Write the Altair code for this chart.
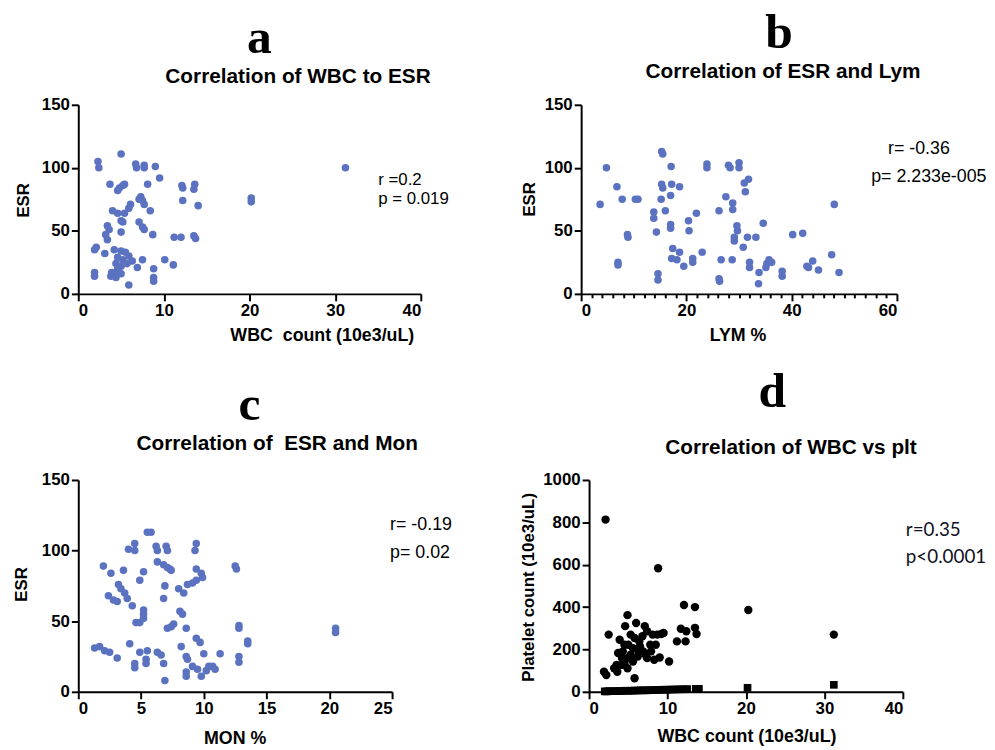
import altair as alt
import pandas as pd

# ---------------- data ----------------
# Panel a: WBC count vs ESR
a_wbc = [5.0, 2.3, 2.4, 6.7, 6.8, 7.7, 7.7, 9.0, 9.5, 3.7, 4.6, 4.8, 5.4, 5.2, 8.1,
         12.1, 12.2, 13.6, 13.5, 12.2, 14.0, 7.3, 7.5, 7.7, 7.1, 6.1, 5.9, 8.4, 4.0,
         4.6, 5.4, 5.0, 5.2, 7.1, 7.5, 7.7, 3.4, 3.6, 3.2, 3.4, 5.0, 8.7, 11.2, 12.0,
         13.5, 13.7, 2.1, 1.9, 3.1, 4.2, 5.0, 5.5, 4.6, 5.2, 5.9, 6.3, 4.4, 5.0, 5.7,
         6.9, 7.5, 10.1, 11.1, 1.9, 1.9, 3.9, 3.8, 4.6, 4.4, 5.0, 8.8, 8.8, 8.8, 5.9,
         4.6, 20.2, 20.2, 31.2]
a_esr = [111, 105, 100, 103, 100, 102, 100, 101, 92, 87, 82, 84, 87, 86, 87,
         86, 84, 87, 83, 74, 70, 77, 74, 71, 75, 71, 68, 66, 66,
         64, 64, 58, 57, 57, 53, 51, 54, 51, 47, 43, 49, 47, 45, 45,
         46, 44, 37, 35, 32, 35, 34, 33, 29, 27, 30, 26, 24, 22, 24,
         21, 27, 27, 23, 17, 14, 17, 14, 16, 13, 16, 20, 13, 10, 7,
         20, 76, 73, 100]

# Panel b: LYM % vs ESR
b_lym = [3.6, 4.8, 6.8, 7.0, 7.0, 7.8, 8.8, 8.9, 10.3, 10.8, 13.8, 13.8, 14.3, 14.6,
         14.6, 15.3, 15.5, 15.3, 15.5, 15.2, 16.0, 17.1, 17.0, 17.2, 18.7, 17.0, 17.0,
         17.4, 17.2, 18.2, 18.7, 19.5, 20.4, 20.5, 21.2, 21.2, 21.9, 23.0, 23.9, 23.9,
         26.2, 26.2, 26.3, 26.6, 27.5, 28.0, 28.3, 28.7, 28.8, 28.8, 29.1, 29.1, 29.6,
         29.7, 30.0, 30.0, 30.8, 31.0, 31.2, 31.8, 31.6, 32.0, 32.0, 33.2, 33.7, 33.8,
         34.6, 35.1, 35.7, 36.2, 38.2, 38.2, 40.2, 42.1, 42.9, 44.0, 45.1, 47.6, 48.1,
         49.0, 35.3, 43.2]
b_esr = [71, 100, 85, 25, 23, 75, 47, 45, 75, 75, 65, 60, 49, 16,
         11, 113, 111, 87, 84, 75, 66, 101, 78, 87, 85, 55, 52,
         36, 28, 27, 33, 22, 58, 50, 28, 25, 64, 33, 103, 100,
         66, 12, 10, 27, 77, 102, 100, 27, 72, 67, 45, 42, 54,
         50, 104, 100, 37, 88, 81, 91, 45, 25, 21, 45, 8, 17,
         56, 21, 27, 25, 18, 14, 47, 48, 22, 26, 19, 31, 71,
         17, 24, 21]

# Panel c: MON % vs ESR
c_mon = [1.3, 1.7, 2.1, 2.5, 3.1, 2.0, 2.6, 3.6, 2.4, 2.8, 3.1, 3.2, 3.4, 3.7, 3.9,
         4.3, 4.1, 4.0, 4.5, 4.5, 4.5, 4.5, 4.9, 4.9, 4.6, 4.9, 5.2, 5.2, 5.2, 5.2,
         5.5, 5.4, 5.4, 5.5, 5.8, 6.2, 6.3, 6.3, 6.8, 7.1, 7.3, 7.4, 7.0, 7.1, 6.9,
         6.8, 6.3, 6.6, 6.8, 6.9, 7.1, 7.4, 7.6, 8.1, 8.3, 8.2, 8.6, 8.0, 8.4, 8.7,
         9.1, 9.4, 9.4, 9.3, 9.4, 9.8, 9.9, 9.4, 9.7, 8.6, 8.7, 8.6, 8.6, 9.1, 9.5,
         9.8, 10.0, 10.2, 10.4, 10.7, 10.9, 11.3, 12.5, 12.6, 12.8, 12.8, 12.8, 12.8,
         13.5, 13.5, 20.5, 20.5]
c_esr = [31, 32, 29, 28, 24, 89, 84, 86, 68, 65, 64, 76, 73, 70, 66,
         61, 34, 101, 105, 100, 20, 17, 28, 79, 49, 49, 58, 55, 52, 85,
         29, 23, 20, 113, 113, 103, 100, 92, 90, 88, 87, 86, 103, 100, 75,
         66, 28, 26, 20, 8, 45, 46, 48, 57, 55, 32, 45, 73, 70, 76,
         77, 79, 105, 100, 87, 84, 81, 38, 35, 25, 23, 14, 11, 18, 16,
         11, 27, 15, 18, 18, 16, 27, 89, 87, 47, 45, 25, 21,
         36, 34, 45, 42]

# Panel d: WBC count vs platelet count (circles) and WBC (squares)
d_wbc = [2.1, 8.8, 12.1, 13.5, 20.3, 31.2, 2.5, 1.9, 2.2, 3.9, 4.9, 4.6, 6.0, 3.7,
         3.5, 3.6, 4.2, 4.5, 4.9, 4.3, 5.0, 5.3, 5.6, 5.8, 6.2, 6.4, 6.8, 7.1, 7.4,
         7.8, 8.1, 8.7, 9.2, 8.5, 9.0, 7.4, 6.9, 6.2, 5.3, 4.5, 4.9, 8.3, 10.2, 11.2,
         11.7, 12.3, 12.4, 13.5, 13.7, 7.9, 6.5, 9.5, 4.1, 5.6, 7.2, 3.2, 5.8]
d_plt = [813, 583, 410, 400, 386, 270, 270, 95, 79, 246, 362, 310, 325, 183,
         127, 95, 159, 135, 111, 191, 222, 270, 206, 64, 167, 238, 262, 310, 286,
         222, 270, 270, 273, 222, 162, 159, 191, 198, 175, 222, 159, 151, 143, 238,
         298, 238, 286, 302, 273, 191, 214, 278, 127, 143, 175, 111, 254]
d_sq_wbc = [2.0, 2.3, 2.6, 3.0, 3.4, 3.8, 4.2, 4.6, 5.0, 5.4, 5.8, 6.2, 6.6, 7.0,
            7.4, 7.8, 8.2, 8.6, 9.0, 9.5, 10.0, 10.5, 11.0, 11.5, 12.0, 12.5, 13.6,
            14.0, 20.2, 31.2]
d_sq_val = [2, 2, 3, 3, 3, 4, 4, 5, 5, 5, 6, 6, 7, 7,
            7, 8, 8, 9, 9, 10, 10, 11, 11, 12, 12, 13, 14,
            14, 19, 33]

BLUE = "#5b72c0"
SANS = "Liberation Sans"
SERIF = "Liberation Serif"
NB = "\u00a0"


def axis(values, title, tx, ty, vertical=False, label_expr=None, tick_size=7):
    kw = dict(
        values=values, grid=False, domainColor="black", domainWidth=2,
        tickColor="black", tickWidth=2, tickSize=tick_size, format="d",
        labelFont=SANS, labelFontWeight="bold", labelFontSize=17,
        labelColor="black", labelPadding=2, title=title, titleFont=SANS,
        titleFontWeight="bold", titleColor="black", titleX=tx, titleY=ty,
        titleAlign="center",
    )
    if label_expr:
        kw["labelExpr"] = label_expr
    if vertical:
        kw.update(titleAngle=270, titleBaseline="middle", titleFontSize=17)
    else:
        kw.update(titleAngle=0, titleBaseline="alphabetic", titleFontSize=18)
    return alt.Axis(**kw)


def txt(s, x, y, font, size, weight="normal", align="center", color="black"):
    return alt.Chart(pd.DataFrame({"t": [s]})).mark_text(
        font=font, fontSize=size, fontWeight=weight, align=align,
        baseline="alphabetic", color=color,
    ).encode(x=alt.value(x), y=alt.value(y), text="t:N")


def scatter(df, xf, yf, xdom, xax, ydom, yax, color, size, shape="circle"):
    return alt.Chart(df).mark_point(
        shape=shape, filled=True, opacity=1, color=color, size=size
    ).encode(
        x=alt.X(f"{xf}:Q", scale=alt.Scale(domain=xdom, nice=False), axis=xax),
        y=alt.Y(f"{yf}:Q", scale=alt.Scale(domain=ydom, nice=False), axis=yax),
    )


# ---------------- panel a ----------------
AW, AH = 346, 191
pa = alt.layer(
    scatter(pd.DataFrame({"wbc": a_wbc, "esr": a_esr}), "wbc", "esr",
            [0, 40], axis([0, 10, 20, 30, 40], f"WBC{NB}{NB}count (10e3/uL)", 246, 47),
            [0, 150], axis([0, 50, 100, 150], "ESR", -55, 96, vertical=True),
            BLUE, 58),
    txt("a", 183, -52, SERIF, 50, "bold"),
    txt("Correlation of WBC to ESR", 222, -22, SANS, 21, "bold"),
    txt("r =0.2", 303, 81, SANS, 17, align="left"),
    txt("p = 0.019", 303, 100, SANS, 17, align="left"),
).properties(width=AW, height=AH)

# ---------------- panel b ----------------
BW, BH = 319, 191
b_xax = axis(list(range(0, 62, 2)), "LYM %", 158, 47,
             label_expr="datum.value % 20 === 0 ? datum.label : ''",
             tick_size={"condition": {"test": "datum.value % 20 === 0", "value": 7}, "value": 4})
pb = alt.layer(
    scatter(pd.DataFrame({"lym": b_lym, "esr": b_esr}), "lym", "esr",
            [0, 60], b_xax,
            [0, 150], axis([0, 50, 100, 150], "ESR", -52, 95, vertical=True),
            BLUE, 58),
    txt("b", 200, -57, SERIF, 50, "bold"),
    txt("Correlation of ESR and Lym", 204, -27, SANS, 21, "bold"),
    txt("r= -0.36", 310, 50, SANS, 18, align="left"),
    txt("p= 2.233e-005", 293, 78, SANS, 18, align="left"),
).properties(width=BW, height=BH)

# ---------------- panel c ----------------
CW, CH = 317, 214
pc = alt.layer(
    scatter(pd.DataFrame({"mon": c_mon, "esr": c_esr}), "mon", "esr",
            [0, 25], axis([0, 5, 10, 15, 20, 25], "MON %", 158, 52),
            [0, 150], axis([0, 50, 100, 150], "ESR", -57, 105, vertical=True),
            BLUE, 58),
    txt("c", 173, -61, SERIF, 50, "bold"),
    txt(f"Correlation of{NB} ESR and Mon", 201, -30, SANS, 21, "bold"),
    txt("r= -0.19", 315, 51, SANS, 18, align="left"),
    txt("p= 0.02", 315, 79, SANS, 18, align="left"),
).properties(width=CW, height=CH)

# ---------------- panel d ----------------
DW, DH = 317, 214
d_xax = axis([0, 10, 20, 30, 40], "WBC count (10e3/uL)", 159, 50)
d_yax = axis([0, 200, 400, 600, 800, 1000], "Platelet count (10e3/uL)", -61, 108, vertical=True)
pd_chart = alt.layer(
    scatter(pd.DataFrame({"wbc": d_wbc, "plt": d_plt}), "wbc", "plt",
            [0, 40], d_xax, [0, 1000], d_yax, "black", 72),
    scatter(pd.DataFrame({"wbc": d_sq_wbc, "plt": d_sq_val}), "wbc", "plt",
            [0, 40], d_xax, [0, 1000], d_yax, "black", 60, shape="square"),
    txt("d", 185, -74, SERIF, 50, "bold"),
    txt("Correlation of WBC vs plt", 204, -26, SANS, 21, "bold"),
    txt("r=0.35", 320, 57, "Lato", 19, align="left", color="#111122"),
    txt("p<0.0001", 320, 84, "Lato", 19, align="left", color="#111122"),
).properties(width=DW, height=DH)

row1 = alt.hconcat(pa, pb, spacing=162, bounds="flush")
row2 = alt.hconcat(pc, pd_chart, spacing=199, bounds="flush")
chart = alt.vconcat(row1, row2, spacing=379, bounds="flush").properties(
    padding={"left": 5, "top": -3, "right": 0, "bottom": 0},
    background="white",
).configure_view(stroke=None)

chart.save("out.html", embed_options={"renderer": "svg", "actions": False})
